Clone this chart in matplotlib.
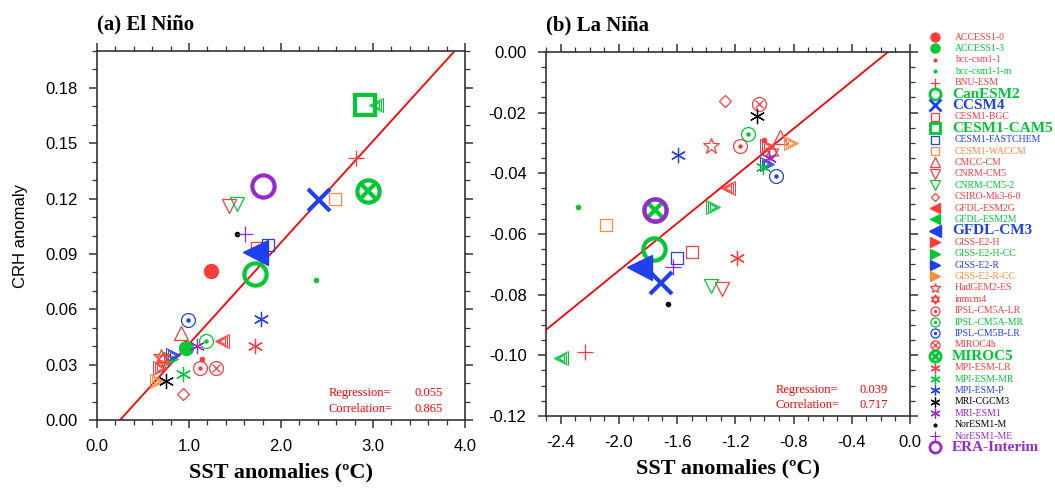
import numpy as np
import matplotlib.pyplot as plt
from matplotlib.path import Path
from matplotlib.ticker import MultipleLocator, FormatStrFormatter

R, G, B, O, K, P = "#ff3b3b", "#00c832", "#2040f0", "#ff8c3c", "black", "#9a28d2"

models = ["ACCESS1-0", "ACCESS1-3", "bcc-csm1-1", "bcc-csm1-1-m", "BNU-ESM",
          "CanESM2", "CCSM4", "CESM1-BGC", "CESM1-CAM5", "CESM1-FASTCHEM",
          "CESM1-WACCM", "CMCC-CM", "CNRM-CM5", "CNRM-CM5-2", "CSIRO-Mk3-6-0",
          "GFDL-ESM2G", "GFDL-ESM2M", "GFDL-CM3", "GISS-E2-H", "GISS-E2-H-CC",
          "GISS-E2-R", "GISS-E2-R-CC", "HadGEM2-ES", "inmcm4", "IPSL-CM5A-LR",
          "IPSL-CM5A-MR", "IPSL-CM5B-LR", "MIROC4h", "MIROC5", "MPI-ESM-LR",
          "MPI-ESM-MR", "MPI-ESM-P", "MRI-CGCM3", "MRI-ESM1", "NorESM1-M",
          "NorESM1-ME", "ERA-Interim"]
colors = [R, G, R, G, R,
          G, B, R, G, B,
          O, R, R, G, R,
          R, G, B, R, G,
          B, O, R, R, R,
          G, B, R, G, R,
          G, B, K, P, K,
          P, P]
kinds = ["fcircle", "fcircle", "dot", "dot", "plus",
         "ocircle", "x", "square", "square", "square",
         "square", "tri_up", "tri_down", "tri_down", "diamond",
         "tri_left", "tri_left", "tri_left", "tri_right", "tri_right",
         "tri_right", "tri_right", "star", "hexagram", "codot",
         "codot", "codot", "cx", "cx", "asterisk",
         "asterisk", "asterisk", "asterisk", "asterisk", "dot",
         "plus", "ocircle"]
highlight = ["CanESM2", "CCSM4", "CESM1-CAM5", "GFDL-CM3", "MIROC5", "ERA-Interim"]

nan = np.nan
# El Nino composite: SST anomaly (oC), CRH anomaly
nino_sst = [1.24, 0.97, 1.14, 2.38, 2.82,
            1.72, 2.41, 1.74, 2.91, 1.86,
            2.59, 0.91, 1.43, 1.52, 0.94,
            1.36, 3.03, 1.72, 0.68, 0.81,
            0.83, 0.65, 0.70, 0.72, 1.12,
            1.19, 0.99, 1.29, 2.95, 1.72,
            0.93, 1.78, 0.75, 1.09, 1.52,
            1.61, 1.80]
nino_crh = [0.081, 0.039, 0.033, 0.076, 0.142,
            0.079, 0.119, 0.093, 0.171, 0.095,
            0.120, 0.047, 0.116, 0.117, 0.014,
            0.043, 0.171, 0.091, 0.028, 0.033,
            0.035, 0.021, 0.034, 0.033, 0.028,
            0.043, 0.054, 0.028, 0.124, 0.040,
            0.025, 0.055, 0.021, 0.040, 0.101,
            0.101, 0.127]
# La Nina composite
nina_sst = [nan, nan, -1.00, -2.28, -2.23,
            -1.76, -1.71, -1.50, nan, -1.60,
            -2.09, -0.89, -1.29, -1.37, -1.27,
            -1.25, -2.40, -1.86, -0.98, -1.35,
            -0.98, -0.82, -1.37, -0.95, -1.17,
            -1.11, -0.92, -1.04, -1.75, -1.19,
            -1.01, -1.59, -1.05, -0.97, -1.66,
            -1.63, -1.75]
nina_crh = [nan, nan, -0.029, -0.051, -0.099,
            -0.065, -0.076, -0.066, nan, -0.068,
            -0.057, -0.028, -0.078, -0.077, -0.016,
            -0.045, -0.101, -0.071, -0.031, -0.051,
            -0.037, -0.030, -0.031, -0.033, -0.031,
            -0.027, -0.041, -0.017, -0.052, -0.068,
            -0.038, -0.034, -0.021, -0.035, -0.083,
            -0.071, -0.052]

reg_a, icpt_a, corr_a = 0.055, -0.0138, 0.865
reg_b, icpt_b, corr_b = 0.039, 0.0059, 0.717

hexpath = Path([(0, 1), (-0.866, -0.5), (0.866, -0.5), (0, 1),
                (0, -1), (-0.866, 0.5), (0.866, 0.5), (0, -1)],
               [Path.MOVETO, Path.LINETO, Path.LINETO, Path.CLOSEPOLY] * 2)


def put_marker(ax, x, y, kind, c, ms, lw, solid=False):
    kw = dict(linestyle="none", clip_on=False, zorder=3)
    if kind == "fcircle":
        ax.plot(x, y, "o", ms=ms, mfc=c, mec=c, **kw)
    elif kind == "dot":
        ax.plot(x, y, "o", ms=ms * 0.3, mfc=c, mec=c, **kw)
    elif kind == "plus":
        ax.plot(x, y, "+", ms=ms * 1.1, mec=c, mew=lw, **kw)
    elif kind == "ocircle":
        ax.plot(x, y, "o", ms=ms, mfc="none", mec=c, mew=lw, **kw)
    elif kind == "x":
        ax.plot(x, y, "x", ms=ms, mec=c, mew=lw, **kw)
    elif kind == "square":
        ax.plot(x, y, "s", ms=ms * 0.9, mfc="none", mec=c, mew=lw, **kw)
    elif kind in ("tri_up", "tri_down"):
        m = "^" if kind == "tri_up" else "v"
        ax.plot(x, y, m, ms=ms, mfc="none", mec=c, mew=lw, **kw)
    elif kind == "diamond":
        ax.plot(x, y, "D", ms=ms * 0.65, mfc="none", mec=c, mew=lw, **kw)
    elif kind in ("tri_left", "tri_right"):
        m = "<" if kind == "tri_left" else ">"
        if solid:
            ax.plot(x, y, m, ms=ms, mfc=c, mec=c, **kw)
        else:
            for f in (1.0, 0.7, 0.4):
                ax.plot(x, y, m, ms=ms * f, mfc="none", mec=c, mew=lw * 0.8, **kw)
    elif kind == "star":
        ax.plot(x, y, "*", ms=ms * 1.2, mfc="none", mec=c, mew=lw, **kw)
    elif kind == "hexagram":
        ax.plot(x, y, marker=hexpath, ms=ms, mfc="none", mec=c, mew=lw, **kw)
    elif kind == "codot":
        ax.plot(x, y, "o", ms=ms, mfc="none", mec=c, mew=lw, **kw)
        ax.plot(x, y, "o", ms=ms * 0.22, mfc=c, mec=c, **kw)
    elif kind == "cx":
        ax.plot(x, y, "o", ms=ms, mfc="none", mec=c, mew=lw, **kw)
        ax.plot(x, y, "x", ms=ms * 0.6, mec=c, mew=lw, **kw)
    elif kind == "asterisk":
        ax.plot(x, y, marker=(6, 2, 0), ms=ms * 1.1, mec=c, mew=lw, **kw)


fig = plt.figure(figsize=(10.55, 4.98), dpi=100)
tickfont = "Liberation Sans"
serif = "Liberation Serif"

panels = [
    ([0.0919, 0.1566, 0.3489, 0.741], nino_sst, nino_crh, reg_a, icpt_a, corr_a,
     "(a) El Niño", (0, 4), (0, 0.20), np.arange(0, 4.01, 1.0), 0.2,
     np.arange(0, 0.181, 0.03), 0.01),
    ([0.5175, 0.1647, 0.3451, 0.7309], nina_sst, nina_crh, reg_b, icpt_b, corr_b,
     "(b) La Niña", (-2.5, 0), (-0.12, 0.0), [-2.4, -2.0, -1.6, -1.2, -0.8, -0.4, 0.0], 0.1,
     [-0.12, -0.10, -0.08, -0.06, -0.04, -0.02, 0.0], 0.005),
]

for i, (rect, xs, ys, reg, icpt, corr, title, xl, yl, xt, xmin_, yt, ymin_) in enumerate(panels):
    ax = fig.add_axes(rect)
    ax.set_xlim(*xl)
    ax.set_ylim(*yl)
    xx = np.array(xl)
    ax.plot(xx, reg * xx + icpt, color="red", lw=1.3, zorder=2)
    for j in range(len(models)):
        if np.isnan(xs[j]):
            continue
        if models[j] in highlight:
            ms, lw = 16, 3.0
            if kinds[j] == "tri_left":
                ms = 18
        else:
            ms, lw = 10, 0.9
        put_marker(ax, xs[j], ys[j], kinds[j], colors[j], ms, lw, solid=models[j] in highlight)
    ax.set_xticks(xt)
    ax.set_yticks(yt)
    ax.xaxis.set_minor_locator(MultipleLocator(xmin_))
    ax.yaxis.set_minor_locator(MultipleLocator(ymin_))
    ax.xaxis.set_major_formatter(FormatStrFormatter("%.1f"))
    ax.yaxis.set_major_formatter(FormatStrFormatter("%.2f"))
    ax.tick_params(which="both", direction="out", top=True, right=True, color="#333333")
    ax.tick_params(which="major", length=6, width=1.1, labelsize=12, pad=8)
    ax.tick_params(which="minor", length=3.5, width=0.9)
    for lab in ax.get_xticklabels() + ax.get_yticklabels():
        lab.set_fontfamily(tickfont)
    for sp in ax.spines.values():
        sp.set_color("#333333")
        sp.set_linewidth(1.2)
    ax.set_xlabel("SST anomalies (ºC)", fontfamily=serif, fontweight="bold",
                  fontsize=16, labelpad=6)
    if i == 0:
        ax.set_ylabel("CRH anomaly", fontfamily=tickfont, fontsize=12, labelpad=12)
    ax.text(0.0, 1.045, title, transform=ax.transAxes, fontfamily=serif,
            fontweight="bold", fontsize=15, ha="left", va="bottom")
    ax.text(0.63, 0.072, "Regression=", transform=ax.transAxes, color="red",
            fontfamily=serif, fontsize=9, ha="left", va="center")
    ax.text(0.94, 0.072, "%.3f" % reg, transform=ax.transAxes, color="red",
            fontfamily=serif, fontsize=9, ha="right", va="center")
    ax.text(0.63, 0.03, "Correlation=", transform=ax.transAxes, color="red",
            fontfamily=serif, fontsize=9, ha="left", va="center")
    ax.text(0.94, 0.03, "%.3f" % corr, transform=ax.transAxes, color="red",
            fontfamily=serif, fontsize=9, ha="right", va="center")

# legend, drawn by hand in pixel coordinates
lax = fig.add_axes([0, 0, 1, 1])
lax.set_xlim(0, 1055)
lax.set_ylim(498, 0)
lax.axis("off")
for j, name in enumerate(models):
    ly = 37 + j * 11.4
    if name in highlight:
        put_marker(lax, 935, ly, kinds[j], colors[j], 8, 2.0, solid=True)
        lax.text(952, ly, name, color=colors[j], fontfamily=serif, fontweight="bold",
                 fontsize=11, va="center", ha="left")
    else:
        put_marker(lax, 935, ly, kinds[j], colors[j], 6.5, 0.9, solid=True)
        lax.text(955, ly, name, color=colors[j], fontfamily=serif,
                 fontsize=7, va="center", ha="left")

fig.savefig("out.png", dpi=100)
